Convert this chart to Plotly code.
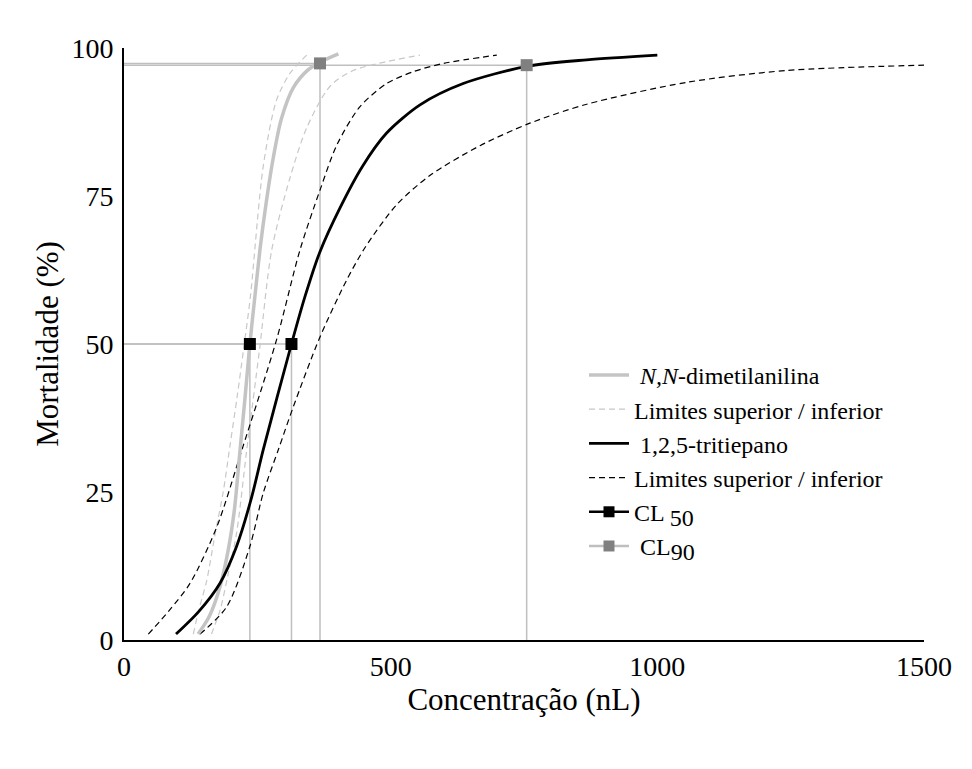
import plotly.graph_objects as go

# ---- data ----
nn_x = [139, 160, 180, 195, 207, 217.5, 227, 236, 246, 255, 266, 280, 295, 317.5, 345, 367.5, 402]
nn_y = [1.0, 4.0, 9.0, 15.0, 22.0, 32.0, 41.0, 50.0, 58.5, 66.0, 73.5, 81.5, 88.0, 93.3, 96.3, 97.6, 99.0]

nn_up_x = [130, 140, 155, 171, 186, 199, 212, 224, 237, 261, 286, 311, 342.5]
nn_up_y = [1, 5, 10, 18, 25, 33, 41, 49, 58, 80, 91.2, 95.7, 98.8]
nn_lo_x = [164, 180, 195, 211, 230, 254, 277, 311, 342.5, 386, 430, 555]
nn_lo_y = [1, 5, 11, 18, 32, 49, 65.9, 78, 86.5, 93.5, 96.2, 98.8]

tt_x = [97.5, 140, 180, 211, 239, 261, 314, 340, 367.5, 405, 447, 492, 555, 636, 755, 867.5, 1000]
tt_y = [1.0, 4.8, 9.6, 15.8, 24.0, 32.1, 50.0, 58.2, 65.6, 73.0, 80.0, 85.6, 90.4, 94.0, 96.9, 98.0, 98.8]

tt_up_x = [45.6, 85, 124, 174, 221, 286, 330, 367.5, 399, 442.5, 492.6, 542.5, 599, 699]
tt_up_y = [1, 5, 9.6, 19.1, 32.1, 50.7, 65.9, 76, 83.6, 90.1, 94, 96, 97.4, 98.8]
tt_lo_x = [142.5, 192.5, 236, 261, 290, 317.5, 367.5, 417.5, 452, 511, 574, 667.5, 761, 867.5, 1055, 1242.5, 1500]
tt_lo_y = [1, 5.6, 15.8, 24.8, 32.3, 39.4, 51.2, 60.8, 66.3, 73.5, 78.5, 83.5, 87.3, 90.5, 94.2, 96.2, 97.1]

cl50_x = [236, 314]
cl50_y = [50, 50]
cl90_x = [367.5, 755]
cl90_y = [97.4, 97.1]

x_ticks = [0, 500, 1000, 1500]
y_ticks = [0, 25, 50, 75, 100]

FONT = "Liberation Serif"
DROP = "#BFBFBF"

fig = go.Figure()

# drop lines (behind)
for cx, cy in list(zip(cl50_x, cl50_y)) + list(zip(cl90_x, cl90_y)):
    fig.add_trace(go.Scatter(x=[0, cx, cx], y=[cy, cy, 0], mode="lines",
                             line=dict(color=DROP, width=1.5),
                             showlegend=False, hoverinfo="skip"))

fig.add_trace(go.Scatter(x=nn_up_x + [None] + nn_lo_x, y=nn_up_y + [None] + nn_lo_y,
                         mode="lines",
                         line=dict(color="#C8C8C8", width=1.2, dash="6px,4px", shape="spline", smoothing=0.8),
                         name="Limites superior / inferior", legendrank=2))
fig.add_trace(go.Scatter(x=tt_up_x + [None] + tt_lo_x, y=tt_up_y + [None] + tt_lo_y,
                         mode="lines",
                         line=dict(color="black", width=1.2, dash="6px,4px", shape="spline", smoothing=0.8),
                         name="Limites superior / inferior", legendrank=4))
fig.add_trace(go.Scatter(x=nn_x, y=nn_y, mode="lines",
                         line=dict(color="#C4C4C4", width=3.5, shape="spline", smoothing=0.8),
                         name=" <i>N,N</i>-dimetilanilina", legendrank=1))
fig.add_trace(go.Scatter(x=tt_x, y=tt_y, mode="lines",
                         line=dict(color="black", width=2.8, shape="spline", smoothing=0.8),
                         name=" 1,2,5-tritiepano", legendrank=3))

fig.add_trace(go.Scatter(x=cl50_x, y=cl50_y, mode="markers",
                         marker=dict(symbol="square", size=12, color="black"),
                         showlegend=False))
fig.add_trace(go.Scatter(x=cl90_x, y=cl90_y, mode="markers",
                         marker=dict(symbol="square", size=12, color="#808080"),
                         showlegend=False))
# legend entries for CL markers
fig.add_trace(go.Scatter(x=[None], y=[None], mode="lines+markers",
                         line=dict(color="black", width=2.5),
                         marker=dict(symbol="square", size=11, color="black"),
                         name='CL <sub><span style="font-size:24px">50</span></sub>', legendrank=5))
fig.add_trace(go.Scatter(x=[None], y=[None], mode="lines+markers",
                         line=dict(color="#BFBFBF", width=2.5),
                         marker=dict(symbol="square", size=11, color="#808080"),
                         name=' CL<sub><span style="font-size:24px">90</span></sub>', legendrank=6))

fig.update_layout(
    width=972, height=769,
    margin=dict(l=116, r=56, t=40, b=137),
    paper_bgcolor="white", plot_bgcolor="white",
    font=dict(family=FONT, size=24, color="black"),
    showlegend=True,
    legend=dict(x=0.575, y=0.485, xanchor="left", yanchor="top",
                bgcolor="rgba(0,0,0,0)", font=dict(family=FONT, size=24),
                tracegroupgap=0, itemwidth=40),
    xaxis=dict(range=[0, 1500], tickvals=x_ticks, showgrid=False, zeroline=False,
               showline=True, linecolor="black", linewidth=2, ticks="",
               tickfont=dict(size=28), ticklabelstandoff=0, automargin=False,
               title=dict(text="Concentração (nL)", font=dict(size=31), standoff=2)),
    yaxis=dict(range=[0, 100], tickvals=y_ticks, showgrid=False, zeroline=False,
               showline=True, linecolor="black", linewidth=2, ticks="",
               tickfont=dict(size=28), ticklabelstandoff=3, automargin=False,
               title=dict(text="Mortalidade (%)", font=dict(size=31), standoff=4)),
)

fig.write_html("out.html")
